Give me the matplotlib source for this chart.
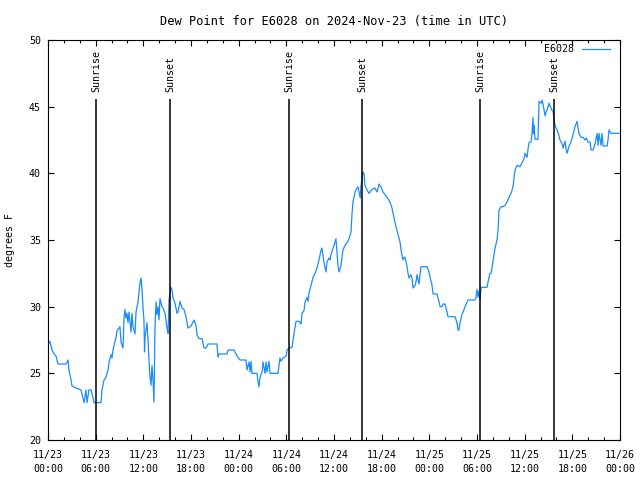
import matplotlib
matplotlib.use('Agg')
import matplotlib.pyplot as plt
from matplotlib.ticker import MultipleLocator

# hours since 11/23 00:00 UTC and dew point in deg F
hours = [0.00, 0.25, 0.50, 0.76, 1.01, 1.26, 2.27, 2.52, 2.64, 2.90, 3.02, 3.52, 4.15, 4.28, 4.53, 4.78, 4.91,
         5.16, 5.41, 5.66, 5.79, 6.67, 6.80, 7.05, 7.30, 7.55, 7.68, 7.93, 8.06, 8.18, 8.56, 8.69, 9.06, 9.19,
         9.44, 9.57, 9.69, 9.82, 9.94, 10.07, 10.20, 10.45, 10.57, 10.70, 10.95, 11.08, 11.33, 11.58, 11.71,
         11.83, 11.96, 12.08, 12.15, 12.21, 12.46, 12.59, 12.71, 12.84, 12.97, 13.09, 13.22, 13.34, 13.47,
         13.60, 13.72, 13.85, 13.97, 14.10, 14.35, 14.48, 14.73, 14.98, 15.11, 15.23, 15.48, 15.61, 15.74,
         15.99, 16.24, 16.36, 16.62, 16.87, 17.12, 17.37, 17.62, 18.00, 18.38, 18.63, 18.76, 19.01, 19.39,
         19.64, 19.89, 20.14, 21.27, 21.40, 21.53, 22.53, 22.66, 23.41, 23.79, 24.17, 24.92, 25.05, 25.30,
         25.43, 25.55, 25.68, 26.31, 26.44, 26.56, 26.69, 26.94, 27.07, 27.32, 27.45, 27.57, 27.82, 27.95,
         28.95, 29.20, 29.33, 29.58, 29.96, 30.09, 30.34, 30.71, 30.97, 31.22, 31.60, 31.85, 31.97, 32.23,
         32.35, 32.60, 32.73, 32.85, 33.11, 33.36, 33.61, 33.86, 34.11, 34.37, 34.49, 34.74, 34.99, 35.12,
         35.37, 35.50, 35.62, 35.88, 36.00, 36.25, 36.38, 36.51, 36.63, 36.88, 37.01, 37.13, 37.39, 37.64,
         37.89, 38.14, 38.27, 38.39, 38.65, 38.90, 39.02, 39.15, 39.30, 39.40, 39.65, 39.78, 39.90, 40.16,
         40.41, 40.79, 41.16, 41.42, 41.67, 41.92, 42.17, 42.42, 42.67, 43.05, 43.30, 43.56, 43.81, 44.06,
         44.31, 44.44, 44.69, 44.81, 44.94, 45.19, 45.32, 45.44, 45.69, 45.82, 45.95, 46.20, 46.32, 46.45,
         46.70, 46.83, 46.95, 47.71, 47.96, 48.09, 48.34, 48.46, 48.97, 49.22, 49.35, 49.60, 49.72, 49.97,
         50.23, 50.35, 51.23, 51.48, 51.61, 51.74, 51.86, 52.11, 52.24, 52.49, 52.74, 52.87, 53.75, 53.88,
         54.00, 54.13, 54.25, 54.38, 54.51, 55.26, 55.51, 55.64, 55.77, 56.02, 56.14, 56.27, 56.52, 56.65,
         56.77, 57.03, 57.28, 57.53, 57.78, 58.03, 58.28, 58.54, 58.66, 58.79, 59.04, 59.42, 59.67, 59.92,
         60.05, 60.30, 60.42, 60.55, 60.80, 60.93, 61.05, 61.10, 61.18, 61.30, 61.68, 61.75, 61.81, 62.06,
         62.19, 62.31, 62.57, 62.69, 62.82, 63.07, 63.32, 63.45, 63.57, 63.70, 63.83, 63.95, 64.08, 64.33,
         64.45, 64.71, 64.83, 65.08, 65.21, 65.34, 65.59, 65.84, 66.09, 66.34, 66.59, 66.72, 66.85, 67.10,
         67.35, 67.60, 67.73, 67.98, 68.23, 68.36, 68.61, 68.86, 69.11, 69.24, 69.36, 69.61, 69.74, 69.87,
         70.37, 70.49, 70.62, 70.87, 71.88]
dewpoint = [27.2, 27.4, 26.75, 26.45, 26.3, 25.7, 25.7, 26.0, 25.25, 24.5, 24.05, 23.9, 23.75, 23.45, 22.8, 23.75, 22.8,
            23.75, 23.75, 23.2, 22.8, 22.8, 23.75, 24.5, 24.7, 25.25, 25.8, 26.4, 26.15, 26.75, 27.7, 28.2, 28.5, 27.35,
            26.9, 29.1, 29.8, 29.15, 29.5, 28.8, 29.6, 28.1, 29.5, 28.5, 27.95, 29.6, 30.35, 31.8, 32.15,
            31.3, 29.9, 29.0, 26.6, 27.7, 28.8, 27.5, 26.0, 24.7, 24.1, 25.6, 24.5, 22.85, 28.5,
            30.35, 29.4, 30.0, 29.0, 30.6, 30.0, 29.9, 29.5, 28.4, 28.0, 30.5, 31.45, 31.25, 30.65,
            30.25, 29.5, 29.6, 30.4, 29.9, 29.8, 29.25, 28.4, 28.55, 29.0, 28.6, 27.9, 27.6, 27.6,
            26.9, 26.9, 27.2, 27.2, 26.2, 26.45, 26.45, 26.75, 26.75, 26.3, 26.0, 26.0, 25.25, 25.85,
            25.1, 25.9, 25.0, 25.0, 24.35, 24.0, 24.7, 25.1, 25.85, 25.0, 25.85, 25.1, 25.9, 25.0,
            25.0, 26.15, 25.9, 26.15, 26.3, 26.75, 26.9, 26.95, 28.0, 28.9, 28.9, 28.7, 29.5, 29.7,
            30.35, 30.7, 30.4, 31.0, 31.6, 32.2, 32.5, 32.9, 33.5, 34.25, 34.4, 33.3, 32.6, 33.35,
            33.65, 33.5, 33.9, 34.4, 34.6, 35.1, 34.0, 33.0, 32.6, 33.1, 33.7, 34.25, 34.6, 34.8,
            35.1, 35.6, 37.0, 37.85, 38.6, 38.9, 39.0, 38.6, 38.15, 39.1, 40.1, 40.0, 39.1, 38.75,
            38.5, 38.8, 38.9, 38.6, 39.2, 39.0, 38.6, 38.4, 38.2, 37.85, 37.4, 36.65, 36.0, 35.4,
            34.85, 34.25, 33.5, 33.7, 33.7, 33.0, 32.5, 32.15, 32.4, 32.15, 31.4, 31.6, 31.85, 32.4,
            31.7, 32.4, 33.0, 33.0, 32.6, 32.2, 31.6, 30.95, 30.95, 30.35, 30.0, 30.0, 30.2, 30.2,
            29.6, 29.25, 29.25, 28.8, 28.25, 28.25, 28.8, 29.4, 29.6, 30.0, 30.35, 30.5, 30.5, 30.7,
            31.3, 30.7, 31.2, 30.5, 31.45, 31.45, 32.2, 32.5, 32.5, 33.4, 33.9, 34.4, 35.0, 35.75,
            37.25, 37.5, 37.5, 37.6, 37.85, 38.2, 38.5, 39.0, 39.65, 40.25, 40.6, 40.5, 40.8, 41.1,
            41.5, 41.2, 41.8, 42.3, 42.35, 43.0, 44.2, 43.0, 43.6, 42.55, 42.55, 44.0, 45.4, 45.25,
            45.5, 45.2, 44.3, 44.6, 44.75, 45.25, 44.9, 44.7, 44.7, 44.0, 43.6, 43.4, 43.25, 42.8,
            42.5, 42.2, 41.9, 42.4, 41.8, 41.5, 42.05, 42.35, 42.9, 43.5, 43.9, 43.4, 42.95, 42.7,
            42.7, 42.5, 42.65, 42.35, 42.35, 41.75, 41.75, 42.2, 43.0, 42.1, 43.0, 42.1, 43.0, 42.05,
            42.05, 42.5, 43.25, 43.0, 43.0]

sun_hours = [6.04, 15.36, 30.34, 39.53, 54.38, 63.70]
sun_labels = ['Sunrise', 'Sunset', 'Sunrise', 'Sunset', 'Sunrise', 'Sunset']

tick_hours = list(range(0, 73, 6))
tick_labels = ['11/23\n00:00', '11/23\n06:00', '11/23\n12:00', '11/23\n18:00',
               '11/24\n00:00', '11/24\n06:00', '11/24\n12:00', '11/24\n18:00',
               '11/25\n00:00', '11/25\n06:00', '11/25\n12:00', '11/25\n18:00',
               '11/26\n00:00']

plt.rcParams['font.family'] = 'DejaVu Sans Mono'
plt.rcParams['font.size'] = 7.2

fig = plt.figure(figsize=(6.4, 4.8), dpi=100)
ax = fig.add_axes([48/640, 40/480, 572/640, 400/480])

ax.plot(hours, dewpoint, color='#1a8cff', linewidth=0.9, label='E6028')

ax.vlines(sun_hours, 20, 45.55, color='black', linewidth=1.1)
for h, lab in zip(sun_hours, sun_labels):
    ax.text(h, 46.1, lab, rotation=90, ha='center', va='bottom')

ax.set_xlim(0, 72)
ax.set_ylim(20, 50)
ax.set_xticks(tick_hours)
ax.set_xticklabels(tick_labels, linespacing=1.5)
ax.xaxis.set_minor_locator(MultipleLocator(2))
ax.yaxis.set_major_locator(MultipleLocator(5))
ax.tick_params(which='both', direction='in', top=True, right=True, width=0.8)
ax.tick_params(which='major', length=4.5)
ax.tick_params(which='minor', length=2.5)
ax.tick_params(axis='x', pad=7)
ax.tick_params(axis='y', pad=5)
for s in ax.spines.values():
    s.set_linewidth(0.8)

ax.set_ylabel('degrees F', labelpad=10)
ax.set_title('Dew Point for E6028 on 2024-Nov-23 (time in UTC)', pad=11)
ax.legend(loc='upper right', bbox_to_anchor=(1 - 4/572, 1 + 2/400), markerfirst=False,
          frameon=False, handlelength=2.8, borderaxespad=0.2, handletextpad=0.8)

fig.savefig('out.png', dpi=100)
